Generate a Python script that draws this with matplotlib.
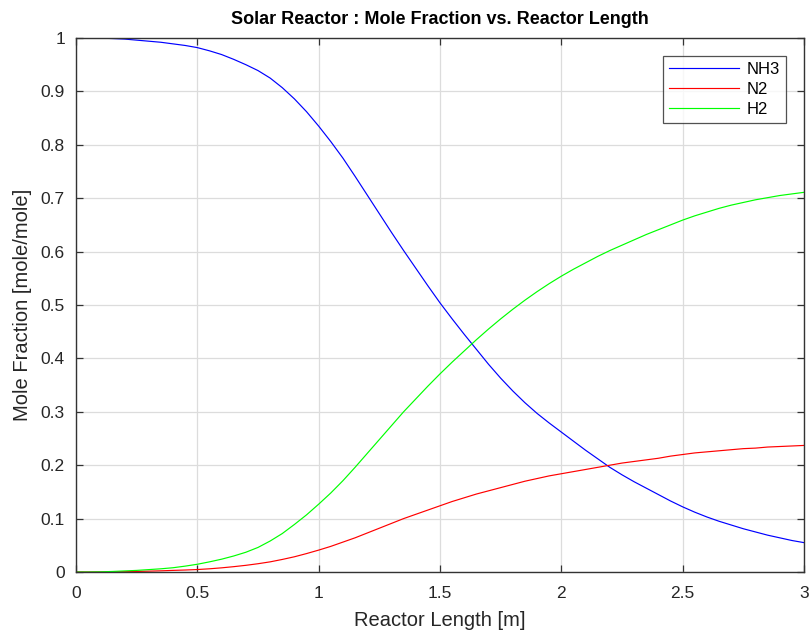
import matplotlib
matplotlib.use("Agg")
import matplotlib.pyplot as plt
from matplotlib.ticker import FuncFormatter

plt.rcParams['font.family'] = ['Liberation Sans', 'DejaVu Sans']

# Data (every 0.05 m)
length_m = [0.00, 0.05, 0.10, 0.15, 0.20, 0.25, 0.30, 0.35, 0.40, 0.45,
            0.50, 0.55, 0.60, 0.65, 0.70, 0.75, 0.80, 0.85, 0.90, 0.95,
            1.00, 1.05, 1.10, 1.15, 1.20, 1.25, 1.30, 1.35, 1.40, 1.45,
            1.50, 1.55, 1.60, 1.65, 1.70, 1.75, 1.80, 1.85, 1.90, 1.95,
            2.00, 2.05, 2.10, 2.15, 2.20, 2.25, 2.30, 2.35, 2.40, 2.45,
            2.50, 2.55, 2.60, 2.65, 2.70, 2.75, 2.80, 2.85, 2.90, 2.95, 3.00]

nh3 = [1.000, 1.000, 0.9998, 0.999, 0.998, 0.996, 0.994, 0.992, 0.989, 0.986,
       0.982, 0.976, 0.969, 0.960, 0.950, 0.939, 0.925, 0.907, 0.886, 0.862,
       0.835, 0.806, 0.775, 0.741, 0.706, 0.671, 0.636, 0.602, 0.569, 0.536,
       0.504, 0.474, 0.445, 0.417, 0.389, 0.363, 0.339, 0.317, 0.297, 0.279,
       0.262, 0.245, 0.228, 0.212, 0.196, 0.182, 0.169, 0.157, 0.145, 0.133,
       0.122, 0.112, 0.103, 0.095, 0.088, 0.081, 0.075, 0.069, 0.064, 0.059, 0.055]

n2 = [0.0, 0.0, 0.0001, 0.0003, 0.0006, 0.001, 0.0016, 0.0022, 0.003, 0.0037,
      0.0046, 0.006, 0.0078, 0.010, 0.0125, 0.0155, 0.019, 0.0235, 0.0285, 0.0345,
      0.041, 0.048, 0.056, 0.064, 0.073, 0.082, 0.091, 0.100, 0.108, 0.116,
      0.124, 0.132, 0.139, 0.146, 0.152, 0.158, 0.164, 0.170, 0.175, 0.180,
      0.184, 0.188, 0.192, 0.196, 0.200, 0.204, 0.207, 0.210, 0.213, 0.217,
      0.220, 0.223, 0.225, 0.227, 0.229, 0.231, 0.232, 0.234, 0.235, 0.236, 0.237]

h2 = [0.0, 0.0, 0.0003, 0.001, 0.002, 0.003, 0.0045, 0.006, 0.008, 0.011,
      0.0145, 0.019, 0.024, 0.030, 0.037, 0.046, 0.058, 0.072, 0.089, 0.107,
      0.127, 0.148, 0.171, 0.196, 0.222, 0.248, 0.274, 0.300, 0.324, 0.348,
      0.371, 0.393, 0.414, 0.435, 0.455, 0.474, 0.492, 0.509, 0.525, 0.540,
      0.554, 0.567, 0.579, 0.591, 0.602, 0.612, 0.622, 0.632, 0.641, 0.650,
      0.659, 0.667, 0.674, 0.681, 0.687, 0.692, 0.697, 0.701, 0.705, 0.708, 0.711]

series_names = ["NH3", "N2", "H2"]
series_colors = ["#0000ff", "#ff0000", "#00ff00"]

fig = plt.figure(figsize=(8.12, 6.39), dpi=100)
ax = fig.add_axes([76/812, 67/639, 728/812, 534/639])

for vals, name, col in zip([nh3, n2, h2], series_names, series_colors):
    ax.plot(length_m, vals, color=col, lw=0.85, label=name)

ax.set_xlim(0, 3)
ax.set_ylim(0, 1)
ax.set_xticks([0, 0.5, 1, 1.5, 2, 2.5, 3])
ax.set_yticks([i / 10 for i in range(11)])
fmt = FuncFormatter(lambda v, p: ('%g' % round(v, 2)))
ax.xaxis.set_major_formatter(fmt)
ax.yaxis.set_major_formatter(fmt)

ax.grid(True, color='#dcdcdc', lw=0.9)
ax.set_axisbelow(True)
ax.tick_params(direction='in', top=True, right=True, length=5, width=0.9,
               colors='#333333', labelcolor='#262626', labelsize=12.5)
ax.tick_params(axis='x', pad=10)
ax.tick_params(axis='y', pad=8)
for s in ax.spines.values():
    s.set_color('#333333')
    s.set_linewidth(1.0)

ax.set_title("Solar Reactor : Mole Fraction vs. Reactor Length",
             fontsize=13, fontweight='bold', color='black', pad=10)
ax.set_xlabel("Reactor Length [m]", fontsize=14.5, color='#262626', labelpad=7)
ax.set_ylabel("Mole Fraction [mole/mole]", fontsize=14.5, color='#262626', labelpad=6)

leg = ax.legend(loc='upper right', bbox_to_anchor=(786/812, 583/639),
                bbox_transform=fig.transFigure, fontsize=12, frameon=True,
                fancybox=False, handlelength=4.2, handletextpad=0.5,
                borderpad=0.35, labelspacing=0.3, borderaxespad=0)
leg.get_frame().set_edgecolor('#262626')
leg.get_frame().set_linewidth(0.9)

fig.savefig("out.png", dpi=100)
